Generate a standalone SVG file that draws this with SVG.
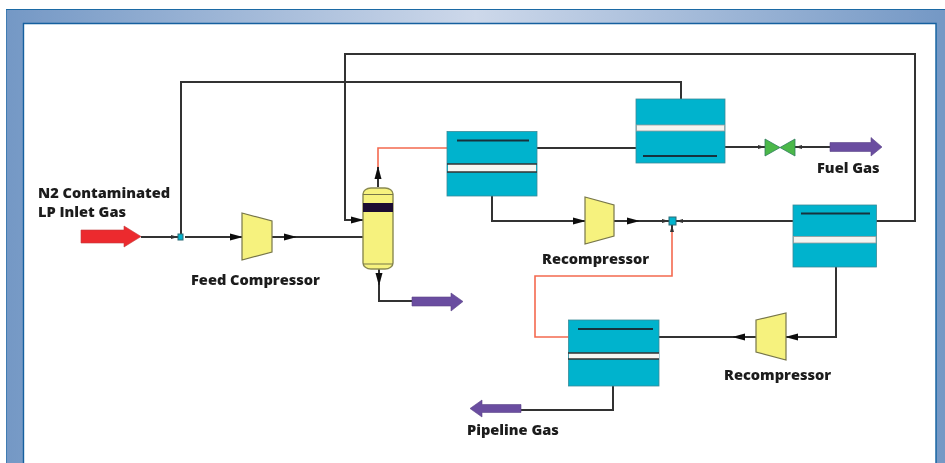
<svg xmlns="http://www.w3.org/2000/svg" width="945" height="463" viewBox="0 0 945 463">
<defs>
<linearGradient id="fr" x1="0" x2="1" y1="0" y2="0"><stop offset="0" stop-color="#7498c5"/><stop offset="0.5" stop-color="#cdd8ea"/><stop offset="1" stop-color="#7498c5"/></linearGradient>
<marker id="ah" markerUnits="userSpaceOnUse" markerWidth="14" markerHeight="10" refX="12" refY="5" orient="auto"><path d="M0 1.500L13 5L0 8.500Z" fill="#111"/></marker>
<marker id="as" markerUnits="userSpaceOnUse" markerWidth="8" markerHeight="6" refX="7" refY="3" orient="auto"><path d="M0 1L7 3L0 5Z" fill="#333"/></marker>
<filter id="soft" x="0" y="0" width="1" height="1"><feGaussianBlur stdDeviation="0.45"/></filter>
</defs>
<style>
.l{fill:none;stroke:#333;stroke-width:2}
.o{fill:none;stroke:#f4694f;stroke-width:1.6}
.ex{fill:#00b3cd;stroke:#3a8a98;stroke-width:0.8}
.w{fill:#f6f6f2}
.bl{fill:none;stroke:#333;stroke-width:1.6}
.in{stroke:#12333c;stroke-width:1.8}
.c{fill:#f6f27e;stroke:#77764a;stroke-width:1.2}
.p{fill:#6b4ea0;stroke:#5a4488;stroke-width:0.6}
text{font-family:"Open Sans","Liberation Sans",sans-serif;font-weight:800;font-size:14.6px;fill:#1c1c1c}
</style>
<rect width="945" height="463" fill="#fff"/>
<g filter="url(#soft)">
<rect x="6" y="9" width="939" height="454" fill="url(#fr)"/>
<path d="M6 463V9.500H945" fill="none" stroke="#1f6aa5" stroke-width="1.2"/>
<path d="M23.500 463V23.500H936V463" fill="#fff" stroke="#12609f" stroke-width="1.4"/>
<g id="connectors">
<path class="l" d="M141 237H178" marker-end="url(#as)"/>
<path class="l" d="M185 237H242" marker-end="url(#ah)"/>
<path class="l" d="M181 234V82H681V99"/>
<path class="l" d="M272 237H296" marker-end="url(#ah)"/>
<path class="l" d="M296 237H363"/>
<path class="l" d="M793 221H915V54H345V220H363" marker-end="url(#ah)"/>
<path class="l" d="M378 187V167" marker-end="url(#ah)"/>
<path class="o" d="M378 167V148H447"/>
<path class="l" d="M379 269V285" marker-end="url(#ah)"/>
<path class="l" d="M379 285V301H412"/>
<path class="l" d="M537 148H636"/>
<path class="l" d="M725 147H765" marker-end="url(#as)"/>
<path class="l" d="M830 147H795" marker-end="url(#as)"/>
<path class="l" d="M492 196V221H585" marker-end="url(#ah)"/>
<path class="l" d="M614 221H639" marker-end="url(#ah)"/>
<path class="l" d="M639 221H669" marker-end="url(#as)"/>
<path class="l" d="M793 221H676" marker-end="url(#as)"/>
<path class="l" d="M672 232V225" marker-end="url(#as)"/>
<path class="o" d="M672 232V276H535V337H568"/>
<path class="l" d="M836 267V337H786" marker-end="url(#ah)"/>
<path class="l" d="M756 337H733" marker-end="url(#ah)"/>
<path class="l" d="M733 337H659"/>
<path class="l" d="M613 386V410H521"/>
</g>
<g id="inlet-arrow"><path d="M81 230H124V226L141 236.500L124 247V243H81Z" fill="#ec2c2f" stroke="#c43a3a" stroke-width="0.6"/></g>
<g id="inlet-label"><text x="38" y="198">N2 Contaminated</text><text x="38" y="217">LP Inlet Gas</text></g>
<g id="mixer-1"><rect x="178" y="234" width="5" height="6" fill="#00b3cd" stroke="#2b6a75"/></g>
<g id="feed-compressor"><path class="c" d="M242 213L272 221V252L242 260Z"/><text x="191" y="285">Feed Compressor</text></g>
<g id="column">
<rect x="363" y="188" width="30" height="81" rx="8" ry="6" fill="#f6f27e" stroke="#8a8a50" stroke-width="1.4"/>
<path d="M363 194.500H393M363 264H393" stroke="#77764a" stroke-width="1.200" fill="none"/>
<rect x="363" y="203" width="30" height="9" fill="#1a1030"/>
</g>
<g id="bottoms-arrow"><path class="p" d="M412 297H451V293L463 301.500L451 311V306H412Z"/></g>
<g id="exchanger-1"><rect class="ex" x="447" y="131.500" width="90" height="64.500"/><rect class="w" x="448" y="164" width="88" height="8"/><path class="bl" d="M447 164H537M447 172H537"/><path class="in" d="M457 140.500H529"/></g>
<g id="exchanger-2"><rect class="ex" x="636" y="99" width="89" height="64"/><rect x="636.500" y="125" width="88" height="6" fill="#f4f4f0" stroke="#999" stroke-width="0.8"/><path class="in" d="M643 156H717"/></g>
<g id="valve"><path d="M765 139L780 147.500L765 156Z M795 139L780 147.500L795 156Z" fill="#4cb848" stroke="#2e7d5e" stroke-width="0.8"/></g>
<g id="fuel-arrow"><path class="p" d="M830 142.500H871V137.500L882 147L871 156V151.500H830Z"/><text x="817" y="173">Fuel Gas</text></g>
<g id="recompressor-1"><path class="c" d="M585 197L614 205V236L585 244Z"/><text x="542" y="264">Recompressor</text></g>
<g id="mixer-2"><rect x="669" y="217" width="7" height="8" fill="#00b3cd" stroke="#2b6a75"/></g>
<g id="exchanger-3"><rect class="ex" x="793" y="205" width="83.500" height="62"/><rect x="793.500" y="236.500" width="82.500" height="6.500" fill="#f4f4f0" stroke="#999" stroke-width="0.8"/><path class="in" d="M801 213.500H870"/></g>
<g id="recompressor-2"><path class="c" d="M756 320L786 313V360L756 352Z"/><text x="724" y="380">Recompressor</text></g>
<g id="exchanger-4"><rect class="ex" x="568.500" y="320" width="90.500" height="66" stroke="#333"/><rect class="w" x="569" y="353" width="90" height="6"/><path class="bl" d="M568 353H659M568 359H659"/><path class="in" d="M578 329H653"/></g>
<g id="pipeline-arrow"><path class="p" d="M521 404.500H482V400L470 408.500L482 417V412.500H521Z"/><text x="467" y="435">Pipeline Gas</text></g>
</g>
</svg>
